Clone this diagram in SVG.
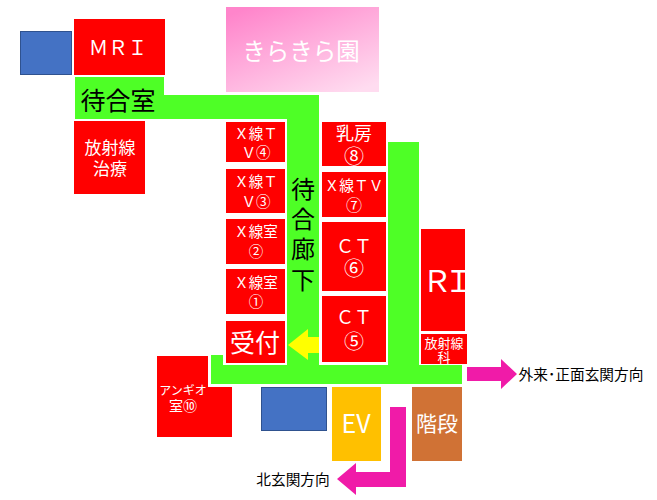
<svg xmlns="http://www.w3.org/2000/svg" width="657" height="500" viewBox="0 0 657 500">
<style>
text{font-family:"Noto Sans CJK JP","Noto Sans",sans-serif;text-anchor:middle}
.red{fill:#ff0000}
.w{fill:#fff}
.k{fill:#000}
.blue{fill:#4472c4;stroke:#2f528f;stroke-width:1}
.green{fill:#4eff26}
.pink{fill:#f01ba8}
.s14{font-size:14.500px}.s17{font-size:17px}.s18{font-size:18px}.s20{font-size:20px}.s15{font-size:14.700px}
</style>
<defs><linearGradient id="g" x1="0.15" y1="0" x2="0.85" y2="1"><stop offset="0" stop-color="#ff85cb"/><stop offset="1" stop-color="#ffdcf0"/></linearGradient></defs>
<rect width="657" height="500" fill="#fff"/>
<g id="connectors">
<path class="green" d="M75 77H164V95H319V365H388V142H419V365H462V384H211V355H223V365H287V119H75Z"/>
<path class="pink" d="M467 367H501V359L517 374L501 389V381H467Z"/>
<path class="pink" d="M390 407H406V487H356V495L337 479L356 463V472H390Z"/>
<path fill="#ffff00" d="M288 345L308 329V337H319V353H308V360Z"/>
</g>
<g id="blue1"><rect class="blue" x="20.500" y="31.500" width="51" height="43"/></g>
<g id="mri"><rect class="red" x="74" y="19" width="91" height="56"/><text class="w" x="118" y="55" font-size="19.500">ＭＲＩ</text></g>
<g id="kirakira"><rect fill="url(#g)" x="226" y="7" width="153" height="85"/><text class="w" x="301" y="60" font-size="23.500">きらきら園</text></g>
<g id="machiai"><text class="k" x="118" y="110" font-size="25">待合室</text></g>
<g id="chiryo"><rect class="red" x="74" y="121" width="71" height="73"/><text class="w s17" x="110" y="154">放射線</text><text class="w s17" x="110" y="175">治療</text></g>
<g id="rouka"><text class="k" font-size="24"><tspan x="303" y="198">待</tspan><tspan x="303" y="228">合</tspan><tspan x="303" y="258">廊</tspan><tspan x="303" y="289">下</tspan></text></g>
<g id="tv4"><rect class="red" x="226" y="122" width="59" height="40"/><text class="w s14" x="256" y="139">Ｘ線Ｔ</text><text class="w s14" x="256" y="158">Ｖ④</text></g>
<g id="tv3"><rect class="red" x="226" y="169" width="59" height="44"/><text class="w s14" x="256" y="187">Ｘ線Ｔ</text><text class="w s14" x="256" y="207">Ｖ③</text></g>
<g id="x2"><rect class="red" x="226" y="219" width="59" height="45"/><text class="w s14" x="256" y="237">Ｘ線室</text><text class="w s14" x="256" y="257">②</text></g>
<g id="x1"><rect class="red" x="226" y="269" width="59" height="45"/><text class="w s14" x="256" y="288">Ｘ線室</text><text class="w s14" x="256" y="307">①</text></g>
<g id="uketsuke"><rect class="red" x="225" y="320" width="61" height="44" stroke="#fff" stroke-width="2"/><text class="w" x="255" y="352" font-size="25">受付</text></g>
<g id="nyubo"><rect class="red" x="322" y="122" width="64" height="44"/><text class="w s18" x="354" y="140">乳房</text><text class="w s20" x="354" y="164">⑧</text></g>
<g id="tv7"><rect class="red" x="322" y="172" width="64" height="45"/><text class="w s15" x="354" y="191">Ｘ線ＴＶ</text><text class="w" font-size="16" x="354" y="211">⑦</text></g>
<g id="ct6"><rect class="red" x="322" y="222" width="64" height="69"/><text class="w s18" x="354" y="253">ＣＴ</text><text class="w s20" x="354" y="276">⑥</text></g>
<g id="ct5"><rect class="red" x="322" y="296" width="64" height="66"/><text class="w s18" x="354" y="324">ＣＴ</text><text class="w s20" x="354" y="349">⑤</text></g>
<g id="ri"><rect class="red" x="421" y="229" width="44" height="102"/><text class="w" font-size="30" letter-spacing="-8" x="444" y="292">ＲＩ</text></g>
<g id="rika"><rect class="red" x="421" y="334" width="46" height="30"/><text class="w" font-size="13" x="444" y="348">放射線</text><text class="w" font-size="13" x="444" y="362">科</text></g>
<g id="angio"><path class="red" d="M157 356H208V387H232V437H157Z"/><text class="w" font-size="12" x="183" y="395">アンギオ</text><text class="w" font-size="14" x="183" y="411">室⑩</text></g>
<g id="blue2"><rect class="blue" x="261.500" y="387.500" width="65" height="43"/></g>
<g id="ev"><rect fill="#ffc000" x="332" y="387" width="49" height="74"/><text class="w" font-size="25" x="356" y="433">EV</text></g>
<g id="kaidan"><rect fill="#d07235" x="412" y="387" width="50" height="74"/><text class="w" font-size="21" x="437" y="431">階段</text></g>
<g id="gairai"><text class="k s15" x="581" y="380">外来･正面玄関方向</text></g>
<g id="kita"><text class="k s15" x="293" y="485">北玄関方向</text></g>
</svg>
